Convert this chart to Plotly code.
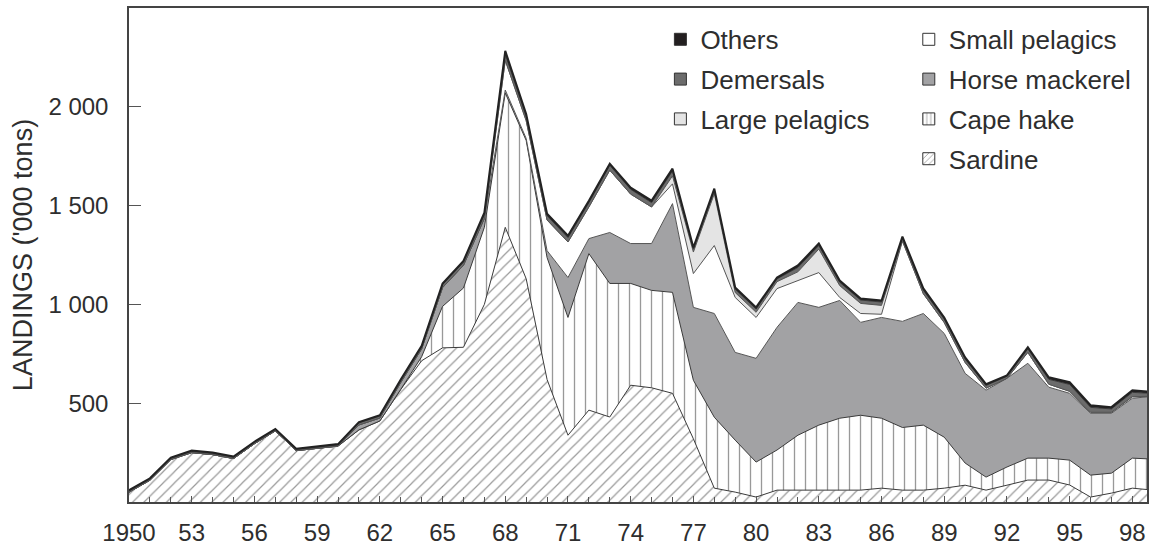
import plotly.graph_objects as go

years = list(range(1950, 2000))

sardine = [50, 110, 215, 250, 240, 220, 295, 360, 260, 270,
           283, 365, 410, 570, 715, 780, 783, 1000, 1390, 1130,
           620, 338, 465, 430, 591, 578, 550, 320, 70, 50,
           25, 60, 60, 60, 60, 60, 70, 60, 60, 70,
           85, 60, 85, 111, 111, 86, 25, 45, 70, 60]
cape_hake = [0, 0, 0, 0, 0, 0, 0, 0, 0, 0,
             0, 0, 0, 0, 20, 210, 300, 390, 680, 700,
             617, 596, 792, 676, 515, 493, 511, 296, 359, 263,
             177, 203, 278, 329, 364, 379, 354, 317, 329, 258,
             112, 66, 92, 111, 111, 126, 111, 101, 152, 157]
horse_mackerel = [0, 0, 0, 0, 0, 0, 0, 0, 0, 0,
                  0, 25, 15, 35, 40, 95, 115, 45, 15, 10,
                  35, 202, 76, 258, 202, 237, 449, 369, 525, 444,
                  525, 621, 672, 596, 596, 470, 510, 537, 565, 525,
                  454, 440, 449, 480, 359, 338, 313, 303, 303, 318]
small_pelagics = [0, 0, 0, 0, 0, 0, 0, 0, 0, 0,
                  0, 0, 0, 0, 0, 0, 0, 0, 150, 90,
                  155, 180, 160, 315, 250, 185, 100, 171, 344, 278,
                  207, 196, 111, 176, 15, 45, 16, 406, 100, 55,
                  55, 10, 0, 55, 15, 10, 5, 5, 8, 0]
large_pelagics = [0, 0, 0, 0, 0, 0, 0, 0, 0, 0,
                  0, 0, 0, 0, 0, 0, 0, 0, 0, 0,
                  0, 0, 0, 0, 0, 0, 40, 109, 262, 25,
                  26, 35, 44, 119, 60, 51, 45, 2, 0, 0,
                  0, 0, 0, 0, 0, 0, 0, 0, 0, 0]
demersals = [6, 6, 6, 6, 6, 6, 6, 6, 6, 6,
             6, 10, 10, 10, 10, 15, 16, 20, 30, 22,
             22, 22, 22, 25, 24, 22, 25, 15, 17, 17,
             17, 14, 22, 18, 17, 17, 17, 14, 18, 18,
             18, 14, 10, 18, 25, 35, 25, 17, 22, 14]
others = [4, 4, 4, 4, 4, 4, 4, 4, 4, 4,
          4, 4, 4, 5, 5, 6, 6, 9, 18, 12,
          10, 10, 10, 8, 9, 10, 12, 8, 9, 9,
          8, 7, 10, 10, 9, 8, 8, 7, 9, 8,
          8, 6, 5, 8, 10, 11, 11, 9, 11, 7]

x_tickvals = list(range(1950, 1999, 3))
x_ticktext = ["1950"] + [str(y)[2:] for y in x_tickvals[1:]]
y_tickvals = [500, 1000, 1500, 2000]
y_ticktext = ["500", "1 000", "1 500", "2 000"]

legend_col1 = ["Others", "Demersals", "Large pelagics"]
legend_col2 = ["Small pelagics", "Horse mackerel", "Cape hake", "Sardine"]

FONT = "Liberation Sans, Arial, sans-serif"
TXT = "#2e2e2e"
EDGE = "#3a3a3a"

styles = {
    "Sardine": dict(pattern=dict(shape="/", fgcolor="#333333", bgcolor="white", size=8, solidity=0.15),
                    color=None, line=EDGE, lw=1),
    "Cape hake": dict(pattern=dict(shape="|", fgcolor="#333333", bgcolor="white", size=11, solidity=0.12),
                      color=None, line=EDGE, lw=1),
    "Horse mackerel": dict(pattern=None, color="#a2a2a4", line="#555555", lw=1),
    "Small pelagics": dict(pattern=None, color="#ffffff", line="#555555", lw=1),
    "Large pelagics": dict(pattern=None, color="#e4e4e4", line="#555555", lw=1),
    "Demersals": dict(pattern=None, color="#6c6c6c", line="#3a3a3a", lw=1),
    "Others": dict(pattern=None, color="#231f20", line="#222222", lw=2),
}

stack = [("Sardine", sardine), ("Cape hake", cape_hake), ("Horse mackerel", horse_mackerel),
         ("Small pelagics", small_pelagics), ("Large pelagics", large_pelagics),
         ("Demersals", demersals), ("Others", others)]

fig = go.Figure()

for name, vals in stack:
    st = styles[name]
    kw = {}
    if st["pattern"] is not None:
        kw["fillpattern"] = st["pattern"]
    else:
        kw["fillcolor"] = st["color"]
    fig.add_trace(go.Scatter(
        x=years, y=vals, name=name, mode="lines", stackgroup="one",
        line=dict(color=st["line"], width=st["lw"]), showlegend=False,
        hoverinfo="x+y+name", **kw,
    ))

# legend entries (square swatches) in the reference's two-column order
for leg, names in (("legend", legend_col1), ("legend2", legend_col2)):
    for name in names:
        st = styles[name]
        marker = dict(line=dict(color="#333333", width=1))
        if st["pattern"] is not None:
            marker["color"] = "white"
            marker["pattern"] = dict(shape=st["pattern"]["shape"], fgcolor="#333333",
                                     bgcolor="white", size=5, solidity=0.2)
        else:
            marker["color"] = st["color"]
        fig.add_trace(go.Bar(x=[None], y=[None], name=name, marker=marker,
                             legend=leg, legendgroup=name, showlegend=True, hoverinfo="skip"))

axis_line = dict(showline=True, linecolor="#444444", linewidth=1.5, mirror=True,
                 showgrid=False, zeroline=False, automargin=False)

leg_common = dict(yanchor="top", xanchor="left", traceorder="grouped", tracegroupgap=3,
                  bgcolor="rgba(0,0,0,0)", font=dict(size=26, family=FONT, color=TXT),
                  itemclick=False, itemdoubleclick=False)

fig.update_layout(
    width=1149, height=546,
    margin=dict(l=129, r=2, t=8, b=44, autoexpand=False),
    paper_bgcolor="white", plot_bgcolor="white",
    font=dict(family=FONT, color=TXT, size=24),
    barmode="overlay",
    hovermode=False,
    xaxis=dict(range=[1950, 1998.7], tickvals=x_tickvals, ticktext=x_ticktext,
               ticks="inside", ticklen=6, tickcolor="#555555",
               minor=dict(dtick=1, tick0=1950, ticks="inside", ticklen=5, tickcolor="#555555"),
               tickfont=dict(size=24, family=FONT, color=TXT), ticklabelstandoff=8,
               **axis_line),
    yaxis=dict(range=[0, 2500], tickvals=y_tickvals, ticktext=y_ticktext,
               ticks="inside", ticklen=12, tickcolor="#555555",
               tickfont=dict(size=24, family=FONT, color=TXT), ticklabelstandoff=14,
               title=dict(text="LANDINGS ('000 tons)", font=dict(size=27, family=FONT, color=TXT), standoff=8),
               **axis_line),
    legend=dict(x=0.522, y=0.984, **leg_common),
    legend2=dict(x=0.766, y=0.984, **leg_common),
    showlegend=True,
)

fig.write_html("out.html", config={"displayModeBar": False},
               post_script="document.body.style.margin='0';document.body.style.overflow='hidden';")
